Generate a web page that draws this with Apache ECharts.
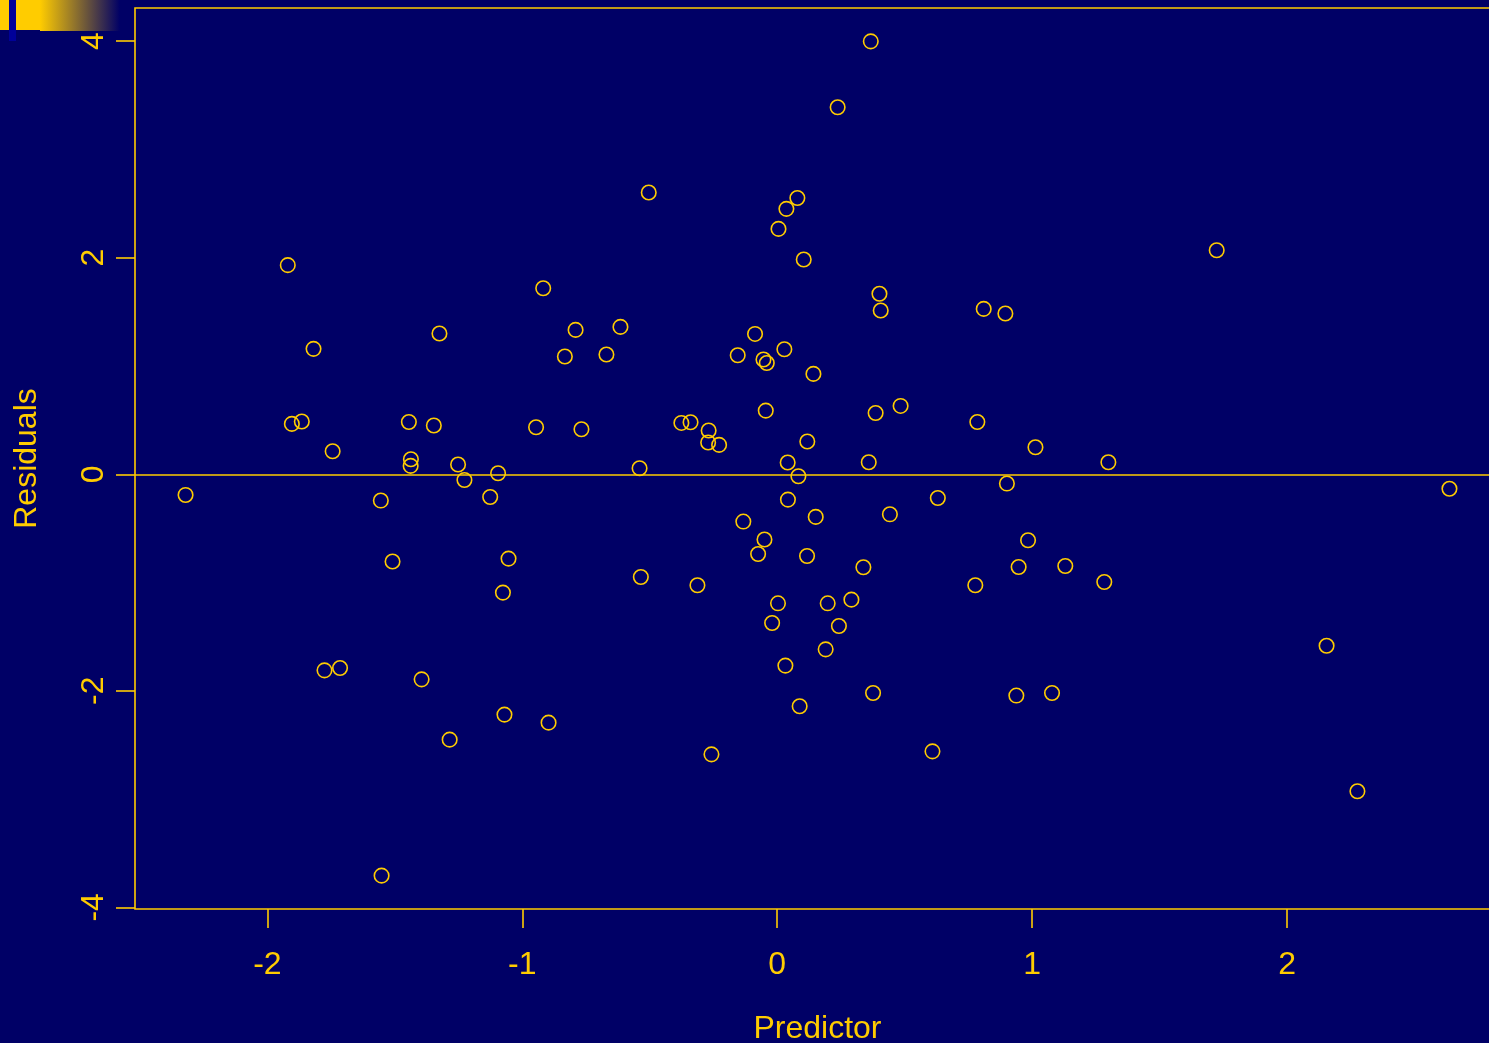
<!DOCTYPE html>
<html>
<head>
<meta charset="utf-8">
<title>Residuals vs Predictor</title>
<script src="https://cdn.jsdelivr.net/npm/echarts@6/dist/echarts.min.js"></script>
<style>
  html, body { margin: 0; padding: 0; background: #000066; overflow: hidden; }
  #chart { width: 1520px; height: 1043px; }
</style>
</head>
<body>
<div id="chart"></div>
<script>
// Observations: predictor value and model residual for each case
const predictor = [
  -2.321, -1.920, -1.904, -1.865, -1.819, -1.744, -1.776, -1.715, -1.555, -1.509,
  -1.552, -1.445, -1.437, -1.438, -1.347, -1.325, -1.395, -1.285, -1.252, -1.227,
  -1.126, -1.095, -1.054, -1.076, -1.070, -0.946, -0.918, -0.897, -0.833, -0.791,
  -0.768, -0.670, -0.615, -0.540, -0.535, -0.504, -0.376, -0.340, -0.313, -0.269,
  -0.271, -0.228, -0.258, -0.155, -0.133, -0.087, -0.075, -0.054, -0.041, -0.045,
  -0.050, -0.020, 0.005, 0.003, 0.036, 0.028, 0.041, 0.042, 0.032, 0.079,
  0.083, 0.088, 0.104, 0.118, 0.117, 0.142, 0.151, 0.190, 0.198, 0.237,
  0.242, 0.291, 0.338, 0.359, 0.367, 0.376, 0.386, 0.401, 0.406, 0.442,
  0.484, 0.609, 0.630, 0.777, 0.785, 0.810, 0.895, 0.901, 0.938, 0.947,
  0.984, 1.013, 1.078, 1.130, 1.283, 1.299, 1.724, 2.155, 2.276, 2.637
];
const residuals = [
  -0.191, 1.931, 0.465, 0.487, 1.158, 0.212, -1.811, -1.789, -0.243, -0.806,
  -3.707, 0.483, 0.139, 0.077, 0.450, 1.300, -1.894, -2.451, 0.090, -0.053,
  -0.210, 0.009, -0.779, -1.093, -2.220, 0.434, 1.718, -2.294, 1.087, 1.333,
  0.416, 1.106, 1.361, 0.055, -0.949, 2.602, 0.474, 0.480, -1.025, 0.404,
  0.293, 0.271, -2.587, 1.099, -0.437, 1.296, -0.736, 1.060, 1.028, 0.588,
  -0.603, -1.374, 2.266, -1.192, 2.451, 1.155, 0.108, -0.234, -1.767, 2.552,
  -0.018, -2.143, 1.983, 0.302, -0.755, 0.927, -0.394, -1.617, -1.192, 3.390,
  -1.401, -1.158, -0.859, 0.111, 3.998, -2.020, 0.566, 1.667, 1.512, -0.370,
  0.631, -2.559, -0.219, -1.025, 0.483, 1.527, 1.485, -0.086, -2.044, -0.856,
  -0.610, 0.249, -2.020, -0.847, -0.995, 0.111, 2.069, -1.584, -2.928, -0.134
];
const xTicks = [-2, -1, 0, 1, 2];
const yTicks = [-4, -2, 0, 2, 4];

const FG = '#FFCC00';
const BG = '#000066';
const FONT = '"Liberation Sans", Arial, Helvetica, sans-serif';

// Pad each axis range by 4% on both sides
function paddedRange(values) {
  const lo = Math.min(...values), hi = Math.max(...values);
  const pad = (hi - lo) * 0.04;
  return [lo - pad, hi + pad];
}
const [xMin, xMax] = paddedRange(predictor);
const [yMin, yMax] = paddedRange(residuals);

const points = predictor.map((x, i) => [x, residuals[i]]);

const chart = echarts.init(document.getElementById('chart'), null, { renderer: 'canvas' });

const axisText = { color: FG, fontFamily: FONT, fontSize: 32 };

chart.setOption({
  animation: false,
  backgroundColor: BG,
  grid: {
    left: 135, top: 8, right: 20, bottom: 134,
    outerBoundsMode: 'none', containLabel: false,
    show: true, borderColor: FG, borderWidth: 1.6, backgroundColor: 'transparent'
  },
  graphic: [
    { type: 'rect', shape: { x: 40, y: 0, width: 80, height: 31 },
      style: { fill: new echarts.graphic.LinearGradient(0, 0, 1, 0, [
        { offset: 0, color: FG }, { offset: 1, color: BG }]) } },
    { type: 'rect', shape: { x: 0, y: 0, width: 40, height: 30 }, style: { fill: FG } },
    { type: 'rect', shape: { x: 9, y: 0, width: 7, height: 41 }, style: { fill: '#000099' } }
  ],
  xAxis: {
    type: 'value', min: xMin, max: xMax,
    name: 'Predictor', nameLocation: 'middle', nameGap: 104,
    nameTextStyle: axisText,
    axisLine: { show: false, onZero: false },
    splitLine: { show: false },
    axisTick: { show: true, length: 19, inside: false, customValues: xTicks,
      lineStyle: { color: FG, width: 1.6 } },
    axisLabel: { show: true, customValues: xTicks, margin: 40, ...axisText }
  },
  yAxis: {
    type: 'value', min: yMin, max: yMax,
    name: 'Residuals', nameLocation: 'middle', nameGap: 92,
    nameTextStyle: axisText,
    axisLine: { show: false, onZero: false },
    splitLine: { show: false },
    axisTick: { show: true, length: 19, inside: false, customValues: yTicks,
      lineStyle: { color: FG, width: 1.6 } },
    axisLabel: { show: true, customValues: yTicks, rotate: 90, margin: 25, ...axisText }
  },
  series: [{
    type: 'scatter',
    data: points,
    symbol: 'circle',
    symbolSize: 14.5,
    itemStyle: { color: 'rgba(0,0,0,0)', borderColor: FG, borderWidth: 1.6, opacity: 1 },
    emphasis: { disabled: true },
    markLine: {
      silent: true, symbol: 'none', animation: false,
      label: { show: false },
      lineStyle: { color: FG, width: 1.6, type: 'solid' },
      data: [{ yAxis: 0 }]
    }
  }]
});
</script>
</body>
</html>
